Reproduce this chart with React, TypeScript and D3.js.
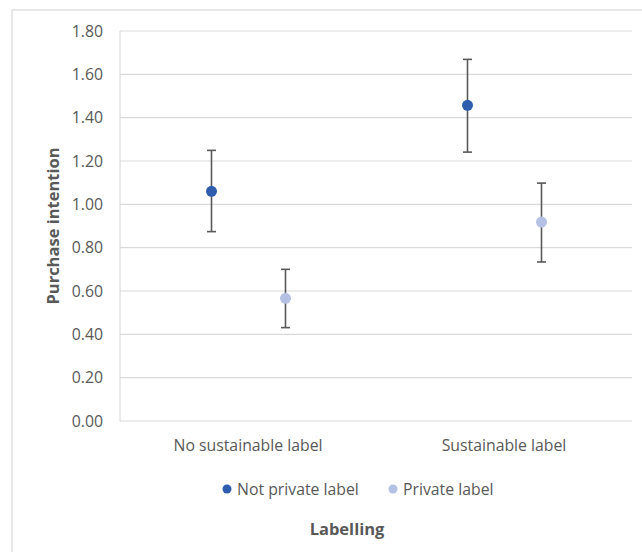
import React from "react";
import * as d3 from "d3";

const categories = ["No sustainable label", "Sustainable label"];
const seriesNames = ["Not private label", "Private label"];
const seriesColors = ["#2F5DAE", "#B4C1E5"];
// mean, lower bound, upper bound per category
const notPrivateMean = [1.06, 1.457];
const notPrivateLow = [0.874, 1.241];
const notPrivateHigh = [1.249, 1.669];
const privateMean = [0.566, 0.918];
const privateLow = [0.431, 0.734];
const privateHigh = [0.7, 1.098];
const yTicks = [0, 0.2, 0.4, 0.6, 0.8, 1.0, 1.2, 1.4, 1.6, 1.8];

const W = 642;
const H = 552;
const FONT = "'Open Sans', 'Noto Sans', sans-serif";
const TEXT = "#595959";
const LABEL_SIZE = 15.8;
const TITLE_SIZE = 16.5;

export default function App() {
  const plot = { left: 120, right: 632, top: 31, bottom: 421 };
  const x = d3
    .scaleBand<string>()
    .domain(categories)
    .range([plot.left, plot.right]);
  const y = d3.scaleLinear().domain([0, 1.8]).range([plot.bottom, plot.top]);
  const offset = d3.scalePoint<string>().domain(seriesNames).range([-36.5, 37.5]);

  const series = [
    { name: seriesNames[0], color: seriesColors[0], mean: notPrivateMean, lo: notPrivateLow, hi: notPrivateHigh },
    { name: seriesNames[1], color: seriesColors[1], mean: privateMean, lo: privateLow, hi: privateHigh },
  ];

  const cap = 4.5;

  return (
    <svg
      width={W}
      height={H}
      style={{ position: "absolute", left: 0, top: 0, background: "#fff" }}
      fontFamily={FONT}
    >
      <rect x={12} y={10} width={W} height={H} fill="#fff" stroke="#D9D9D9" strokeWidth={1.2} />

      {/* gridlines */}
      {yTicks.map((t) => (
        <line
          key={t}
          x1={plot.left}
          x2={plot.right}
          y1={y(t)}
          y2={y(t)}
          stroke="#D9D9D9"
          strokeWidth={1.2}
        />
      ))}
      <line x1={plot.left} x2={plot.left} y1={plot.top} y2={plot.bottom} stroke="#D9D9D9" strokeWidth={1.2} />

      {/* y tick labels */}
      {yTicks.map((t) => (
        <text
          key={"l" + t}
          x={103}
          y={y(t)}
          dy="0.35em"
          textAnchor="end"
          fontSize={LABEL_SIZE}
          fill={TEXT}
        >
          {t.toFixed(2)}
        </text>
      ))}

      {/* category labels */}
      {categories.map((c) => (
        <text
          key={c}
          x={(x(c) ?? 0) + x.bandwidth() / 2}
          y={445}
          dy="0.35em"
          textAnchor="middle"
          fontSize={LABEL_SIZE}
          fill={TEXT}
        >
          {c}
        </text>
      ))}

      {/* error bars and points */}
      {series.map((s) =>
        categories.map((c, i) => {
          const cx = (x(c) ?? 0) + x.bandwidth() / 2 + (offset(s.name) ?? 0);
          return (
            <g key={s.name + c}>
              <line x1={cx} x2={cx} y1={y(s.lo[i])} y2={y(s.hi[i])} stroke="#595959" strokeWidth={1.6} />
              <line x1={cx - cap} x2={cx + cap} y1={y(s.lo[i])} y2={y(s.lo[i])} stroke="#595959" strokeWidth={1.6} />
              <line x1={cx - cap} x2={cx + cap} y1={y(s.hi[i])} y2={y(s.hi[i])} stroke="#595959" strokeWidth={1.6} />
              <circle cx={cx} cy={y(s.mean[i])} r={5.5} fill={s.color} />
            </g>
          );
        })
      )}

      {/* y axis title */}
      <text
        transform={`translate(53,${(plot.top + plot.bottom) / 2}) rotate(-90)`}
        textAnchor="middle"
        dy="0.35em"
        fontSize={TITLE_SIZE}
        fontWeight="bold"
        fill={TEXT}
      >
        Purchase intention
      </text>

      {/* legend */}
      {[
        { name: seriesNames[0], color: seriesColors[0], mx: 227 },
        { name: seriesNames[1], color: seriesColors[1], mx: 393 },
      ].map((l) => (
        <g key={l.name}>
          <circle cx={l.mx} cy={489} r={4.5} fill={l.color} />
          <text x={l.mx + 10} y={489} dy="0.35em" fontSize={LABEL_SIZE} fill={TEXT}>
            {l.name}
          </text>
        </g>
      ))}

      {/* x axis title */}
      <text x={347} y={529} dy="0.35em" textAnchor="middle" fontSize={TITLE_SIZE} fontWeight="bold" fill={TEXT}>
        Labelling
      </text>
    </svg>
  );
}
